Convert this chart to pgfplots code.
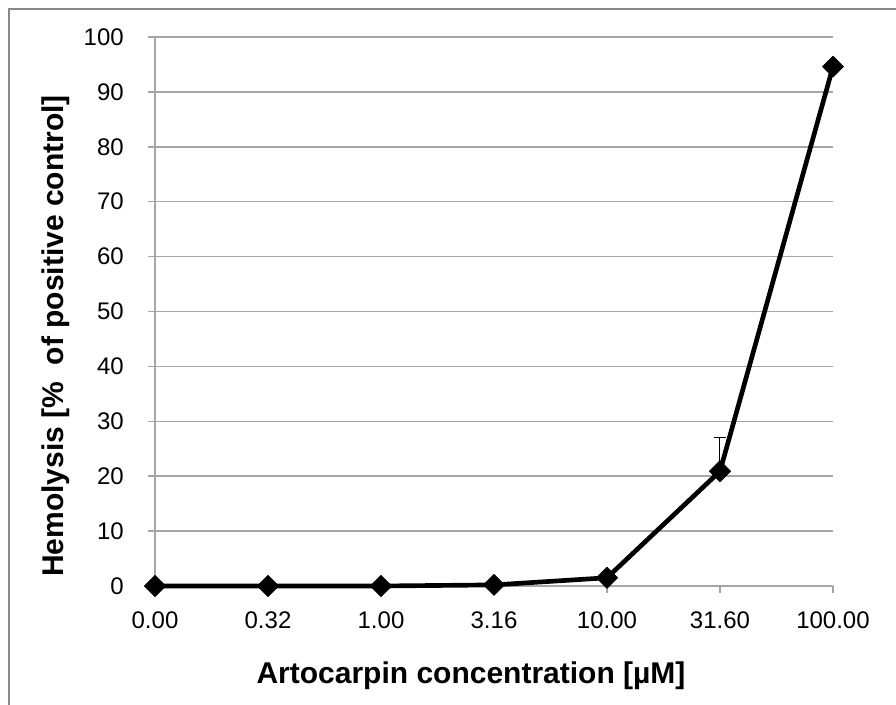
\documentclass[border=0pt]{standalone}
\usepackage{pgfplots}
\pgfplotsset{compat=1.18}
\usepackage{fontspec}
\setmainfont{Liberation Sans}
\definecolor{gridgray}{RGB}{166,166,166}
\definecolor{framegray}{RGB}{136,136,136}

\begin{document}
\begin{tikzpicture}
\useasboundingbox (0,0) rectangle (672pt,-528pt);
\draw[framegray, line width=1.5pt] (6.75pt,-530pt) -- (6.75pt,-6.75pt) -- (674pt,-6.75pt);
\begin{axis}[
    at={(116.25pt,-439.5pt)}, anchor=south west,
    scale only axis,
    width=508.5pt, height=411.75pt,
    xmin=0, xmax=6, ymin=0, ymax=100,
    xtick={0,...,6},
    xticklabels={0.00,0.32,1.00,3.16,10.00,31.60,100.00},
    ytick={0,10,...,100},
    /pgf/number format/assume math mode=true,
    axis x line*=bottom, axis y line*=left,
    ymajorgrids,
    grid style={gridgray, line width=1.1pt},
    axis line style={gridgray, line width=1.1pt},
    tick style={gridgray, line width=1.1pt},
    tick align=outside,
    major tick length=5.25pt,
    tick label style={font=\fontsize{18}{18}\selectfont, inner sep=0pt},
    yticklabel style={anchor=east, xshift=-18pt},
    xticklabel style={anchor=north, yshift=-13.5pt},
    clip=false
]
\addplot[black, line width=3.5pt, line join=round,
    mark=square*, mark size=5.6pt, mark options={solid, rotate=45, line width=0.5pt},
    error bars/.cd, y dir=plus, y explicit,
    error bar style={black, line width=0.75pt},
    error mark options={rotate=90, mark size=4.5pt, black, line width=0.75pt}]
    coordinates {
    (0,0) (1,0) (2,0) (3,0.2) (4,1.5)
    (5,20.9) +- (0,6.2)
    (6,94.6) +- (0,0.4)
    };
\end{axis}
\node[font=\bfseries\fontsize{22.5}{22.5}\selectfont, anchor=base] at (353.25pt,-512.25pt) {Artocarpin concentration [µM]};
\node[font=\bfseries\fontsize{22.5}{22.5}\selectfont, anchor=base, rotate=90] at (47.25pt,-252pt) {Hemolysis [\%~ of positive control]};
\end{tikzpicture}
\end{document}
